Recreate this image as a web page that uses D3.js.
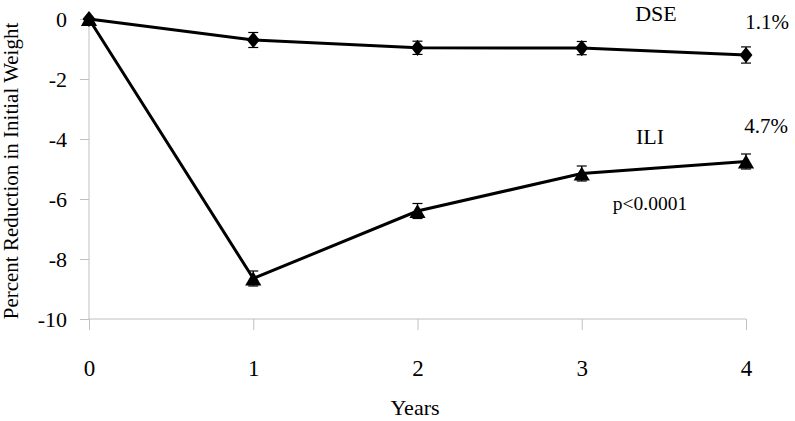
<!DOCTYPE html>
<meta charset="utf-8">
<script src="https://d3js.org/d3.v7.min.js"></script>
<style>
  body { margin: 0; background: #fff; }
</style>
<div id="my_dataviz"></div>
<script>

// data
var years = [0, 1, 2, 3, 4];
var dse = [0, -0.7, -0.96, -0.97, -1.2];
var ili = [0, -8.65, -6.4, -5.15, -4.75];
var dseErr = [0, 0.25, 0.22, 0.22, 0.27];
var iliErr = [0, 0.25, 0.25, 0.25, 0.25];
var yTicks = [0, -2, -4, -6, -8, -10];

var margin = {top: 19, right: 49, bottom: 102, left: 89},
    width = 795 - margin.left - margin.right,
    height = 319 - margin.top;

var serif = "'Liberation Serif', 'Times New Roman', Times, serif";

var svg = d3.select("#my_dataviz")
  .append("svg")
    .attr("width", 795)
    .attr("height", 421)
  .append("g")
    .attr("transform", "translate(" + margin.left + "," + margin.top + ")");

var x = d3.scaleLinear()
  .domain([0, 4])
  .range([0, 657]);

var y = d3.scaleLinear()
  .domain([0, -10])
  .range([0, height]);

// X axis (drawn at -10)
var xAxis = svg.append("g")
  .attr("transform", "translate(0," + height + ")")
  .call(d3.axisBottom(x).tickValues(years).tickFormat(d3.format("d")).tickSize(11).tickPadding(30));
xAxis.select(".domain").attr("stroke", "#c0c0c0").attr("d", "M0,0H" + x(4));
xAxis.selectAll(".tick line").attr("stroke", "#c0c0c0");
xAxis.selectAll("text").style("font-family", serif).style("font-size", "23px").attr("fill", "#000");

// Y axis
var yAxis = svg.append("g")
  .call(d3.axisLeft(y).tickValues(yTicks).tickFormat(d3.format("d")).tickSize(9).tickPadding(13));
yAxis.select(".domain").attr("stroke", "#c0c0c0").attr("d", "M0," + y(-10) + "V0");
yAxis.selectAll(".tick line").attr("stroke", "#c0c0c0");
yAxis.selectAll("text")
  .style("font-family", serif).style("font-size", "22px").attr("fill", "#000")
  .text(function(d) { return d === 0 ? "0" : "-" + Math.abs(d); });

var line = d3.line()
  .x(function(d) { return x(d[0]); })
  .y(function(d) { return y(d[1]); });

// Excel-style diamond: a bit fatter than d3's
var fatDiamond = {
  draw: function(ctx, size) {
    var h = Math.sqrt(size) * 0.62, w = h * 0.8;
    ctx.moveTo(0, -h); ctx.lineTo(w, 0); ctx.lineTo(0, h); ctx.lineTo(-w, 0); ctx.closePath();
  }
};
// triangle centred on its box rather than its centroid
var boxTriangle = {
  draw: function(ctx, size) {
    var s = Math.sqrt(size) * 1.45, h = s * 0.866;
    ctx.moveTo(0, -h / 2); ctx.lineTo(s / 2, h / 2); ctx.lineTo(-s / 2, h / 2); ctx.closePath();
  }
};

function drawSeries(vals, errs, symbolType, size) {
  var pts = years.map(function(yr, i) { return [yr, vals[i], errs[i]]; });

  svg.append("path")
    .datum(pts)
    .attr("fill", "none")
    .attr("stroke", "#000")
    .attr("stroke-width", 3)
    .attr("d", line);

  // small error bars
  var eb = svg.selectAll(null)
    .data(pts.filter(function(d) { return d[2] > 0; }))
    .enter()
    .append("g");
  eb.append("line")
    .attr("x1", function(d) { return x(d[0]); })
    .attr("x2", function(d) { return x(d[0]); })
    .attr("y1", function(d) { return y(d[1] + d[2]); })
    .attr("y2", function(d) { return y(d[1] - d[2]); })
    .attr("stroke", "#000").attr("stroke-width", 1.2);
  eb.selectAll("cap")
    .data(function(d) { return [[d[0], d[1] + d[2]], [d[0], d[1] - d[2]]]; })
    .enter()
    .append("line")
    .attr("x1", function(d) { return x(d[0]) - 5; })
    .attr("x2", function(d) { return x(d[0]) + 5; })
    .attr("y1", function(d) { return y(d[1]); })
    .attr("y2", function(d) { return y(d[1]); })
    .attr("stroke", "#000").attr("stroke-width", 1.2);

  svg.selectAll(null)
    .data(pts)
    .enter()
    .append("path")
    .attr("transform", function(d) { return "translate(" + x(d[0]) + "," + y(d[1]) + ")"; })
    .attr("d", d3.symbol().type(symbolType).size(size))
    .attr("fill", "#000");
}

drawSeries(dse, dseErr, fatDiamond, 170);
drawSeries(ili, iliErr, boxTriangle, 125);

// annotations (page coordinates)
function label(txt, px, py, fs) {
  svg.append("text")
    .attr("x", px - margin.left)
    .attr("y", py - margin.top)
    .attr("text-anchor", "middle")
    .style("font-family", serif)
    .style("font-size", fs + "px")
    .text(txt);
}
label("DSE", 656, 21, 22);
label("1.1%", 767, 29, 21);
label("ILI", 650, 144, 22);
label("4.7%", 766, 133, 21);
label("p<0.0001", 650, 210, 19.5);

// axis titles
svg.append("text")
  .attr("x", 415 - margin.left)
  .attr("y", 415 - margin.top)
  .attr("text-anchor", "middle")
  .style("font-family", serif)
  .style("font-size", "22px")
  .text("Years");

svg.append("text")
  .attr("transform", "rotate(-90)")
  .attr("x", -(171 - margin.top))
  .attr("y", 18 - margin.left)
  .attr("text-anchor", "middle")
  .style("font-family", serif)
  .style("font-size", "21px")
  .text("Percent Reduction in Initial Weight");

</script>
